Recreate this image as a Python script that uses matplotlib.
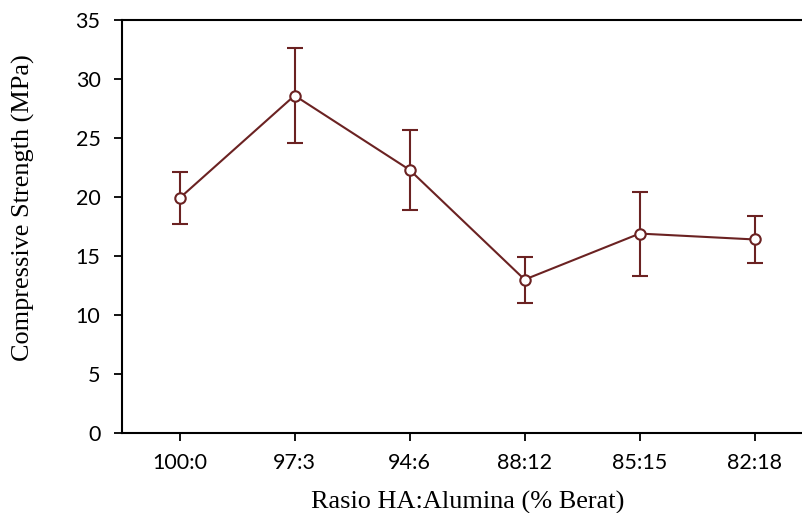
import matplotlib
matplotlib.use('Agg')
import matplotlib.pyplot as plt

# Data
ratios = ["100:0", "97:3", "94:6", "88:12", "85:15", "82:18"]
strength = [19.9, 28.6, 22.3, 13.0, 16.9, 16.4]
err_low = [2.2, 4.0, 3.4, 2.0, 3.6, 2.0]
err_high = [2.2, 4.0, 3.4, 1.9, 3.5, 2.0]

LINE_COLOR = "#6b2222"
W, H = 803, 513

fig = plt.figure(figsize=(W / 100, H / 100), dpi=100)
ax = fig.add_axes([0.152, 0.156, 0.848, 0.805])

x = list(range(len(ratios)))
ax.errorbar(x, strength, yerr=[err_low, err_high], color=LINE_COLOR,
            linewidth=1.5, elinewidth=1.5, capsize=6, capthick=1.5,
            marker="o", markersize=7.5, markerfacecolor="white",
            markeredgecolor=LINE_COLOR, markeredgewidth=1.5, zorder=3)

ax.set_xlim(-0.5, 5.42)
ax.set_ylim(0, 35)
ax.set_xticks(x)
ax.set_xticklabels(ratios)
ax.set_yticks(range(0, 36, 5))

ax.spines["right"].set_visible(False)
for side in ["left", "bottom", "top"]:
    ax.spines[side].set_linewidth(1.5)
    ax.spines[side].set_color("black")

ax.tick_params(axis="both", length=5.5, width=1.3, labelsize=15.5, color="black")
ax.tick_params(axis="x", pad=9)
ax.tick_params(axis="y", pad=10)
for lbl in ax.get_xticklabels() + ax.get_yticklabels():
    lbl.set_fontfamily("Lato")

# axis titles placed in pixels to match the reference
fig.text(468 / W, (H - 509) / H, "Rasio HA:Alumina (% Berat)",
         fontfamily="Liberation Serif", fontsize=18.9,
         ha="center", va="baseline")
fig.text(23 / W, (H - 208) / H, "Compressive Strength (MPa)",
         fontfamily="Liberation Serif", fontsize=18.9, rotation=90,
         ha="center", va="center")

plt.savefig("out.png", dpi=100)
plt.close()
